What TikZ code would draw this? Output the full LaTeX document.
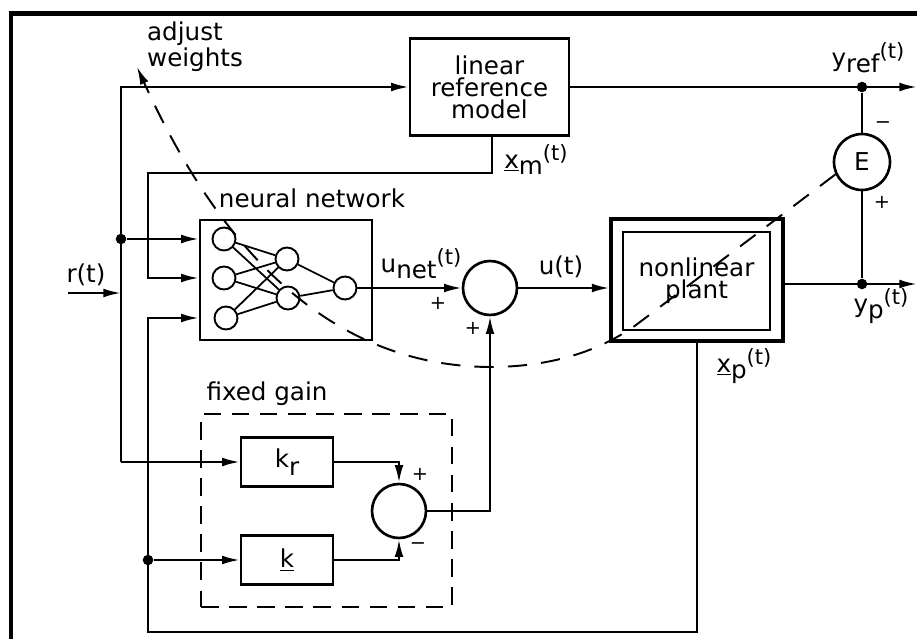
\documentclass[tikz,border=0pt]{standalone}
\usepackage{fontspec}
\setmainfont{DejaVu Sans}
\usepackage{tikz}
\usetikzlibrary{arrows.meta}
\tikzstyle{arrow} = [->,>={Latex[length=10pt,width=5pt]}]
\tikzstyle{block} = [draw, line width=1.4pt, inner sep=0pt, align=center]
\tikzstyle{sumnode} = [draw, circle, line width=1.5pt, minimum size=1.08cm, inner sep=0pt]
\tikzstyle{neuron} = [draw, circle, line width=1.1pt, minimum size=0.46cm, inner sep=0pt]
\tikzstyle{junct} = [circle, fill, inner sep=0pt, minimum size=6pt]
\tikzstyle{sign} = [inner sep=0pt, font=\fontsize{11}{11}\selectfont]
\newcommand{\sigt}[2]{#1\raisebox{-0.5ex}{#2}\raisebox{0.55ex}{\fontsize{12}{12}\selectfont(t)}}

\begin{document}
\begin{tikzpicture}[x=0.02cm, y=-0.02cm, line width=1.3pt, every node/.style={font=\fontsize{14}{12.5}\selectfont}]
  \useasboundingbox (0,0) rectangle (917,639);

  % Frame
  \draw[line width=2.4pt] (11,639) -- (11,13.5) -- (917,13.5);

  % Blocks
  \node[block, minimum width=3.18cm, minimum height=1.94cm] (ref) at (489.5,87) {linear\\reference\\model};
  \node[block, minimum width=3.44cm, minimum height=2.4cm] (nn) at (286,280) {};
  \node[block, line width=1.8pt, minimum width=3.44cm, minimum height=2.44cm] (plant) at (697,280) {};
  \node[block, line width=1.6pt, minimum width=2.94cm, minimum height=1.96cm] (plantin) at (696.5,281) {nonlinear\\plant};
  \node[block, minimum width=1.84cm, minimum height=0.98cm] (kr) at (287,462) {k\raisebox{-0.55ex}{r}};
  \node[block, minimum width=1.84cm, minimum height=0.98cm] (k) at (287,560) {\underline{k}};
  \node[draw, line width=1.2pt, dash pattern=on 10pt off 6pt, minimum width=5.02cm, minimum height=3.86cm] (fixed) at (326.5,510.5) {};

  % Summing points
  \node[sumnode] (s1) at (490,288) {};
  \node[sumnode] (s2) at (399,511) {};
  \node[sumnode, minimum size=1.12cm] (err) at (862,162) {E};

  % Neurons
  \node[neuron] (n1) at (224,239) {};
  \node[neuron] (n2) at (224,278) {};
  \node[neuron] (n3) at (226,318) {};
  \node[neuron] (h1) at (287,259) {};
  \node[neuron] (h2) at (288,298) {};
  \node[neuron] (o) at (345,288) {};
  \draw[line width=1pt] (n1) -- (h1);
  \draw[line width=1pt] (n1) -- (h2);
  \draw[line width=1pt] (n2) -- (h1);
  \draw[line width=1pt] (n2) -- (h2);
  \draw[line width=1pt] (n3) -- (h1);
  \draw[line width=1pt] (n3) -- (h2);
  \draw[line width=1pt] (h1) -- (o);
  \draw[line width=1pt] (h2) -- (o);

  % Branch points
  \coordinate (rin) at (68,293);
  \coordinate (rj) at (121,293);
  \coordinate (rtop) at (121,87);
  \coordinate (rbot) at (121,462);
  \coordinate (xm) at (492,173);
  \coordinate (xmcorner) at (148,173);
  \coordinate (xpbot) at (697,632);
  \coordinate (fbcorner) at (148,632);
  \coordinate (yrefout) at (917,87);
  \coordinate (ypout) at (917,284);
  \coordinate (adj) at (137,67);
  \node[junct] (j1) at (121,239) {};
  \node[junct] (j2) at (148,560) {};
  \node[junct] (jref) at (862,87) {};
  \node[junct] (jp) at (862,284) {};

  % Reference input r(t)
  \draw[arrow] (rin) -- (rj);
  \draw[arrow] (rbot) -- (rtop) -- (ref.west);
  \draw[arrow] (rbot) -- (kr.west);
  \draw[arrow] (j1) -- (n1 -| nn.west);

  % States
  \draw[arrow] (ref.south -| xm) -- (xm) -- (xmcorner) -- (xmcorner |- n2) -- (n2 -| nn.west);
  \draw[arrow] (plant.south) -- (xpbot) -- (fbcorner) -- (fbcorner |- n3) -- (n3 -| nn.west);
  \draw[arrow] (j2) -- (k.west);

  % Control signal
  \draw[arrow] (o.east) -- (s1.west);
  \draw[arrow] (s1.east) -- (plant.west |- s1);
  \draw[arrow] (kr.east) -- (kr.east -| s2) -- (s2.north);
  \draw[arrow] (k.east) -- (k.east -| s2) -- (s2.south);
  \draw[arrow] (s2.east) -- (s2.east -| s1) -- (s1.south);

  % Outputs and error
  \draw[arrow] (ref.east) -- (yrefout);
  \draw[arrow] (plant.east |- jp) -- (ypout);
  \draw (jref) -- (err.north);
  \draw (err.south) -- (jp);

  % Adaptation
  \draw[arrow, line width=1.1pt, dash pattern=on 11pt off 8pt] (err.205) -- (640,322)
    .. controls (590,360) and (530,367) .. (490,367)
    .. controls (330,366) and (220,250) .. (adj);

  % Labels
  \node (rlab) at (86,275) {r(t)};
  \node[anchor=north west, inner sep=0pt, align=left] (adjlab) at (146,21) {adjust\\weights};
  \node[anchor=base] (nnlab) at (312,207) {neural network};
  \node[anchor=base] (unetlab) at (421,272) {\sigt{u}{net}};
  \node[anchor=base] (ulab) at (561,274) {u(t)};
  \node[anchor=base] (xmlab) at (536,168) {\sigt{\underline{x}}{m}};
  \node[anchor=base] (yreflab) at (868,66) {\sigt{y}{ref}};
  \node[anchor=base] (yplab) at (881,312) {\sigt{y}{p}};
  \node[anchor=base] (xplab) at (744,372) {\sigt{\underline{x}}{p}};
  \node[anchor=base] (fixlab) at (267,400) {fixed gain};
  \node[sign] (sg1) at (438,303) {+};
  \node[sign] (sg2) at (473,328) {+};
  \node[sign] (sg3) at (883,125) {−};
  \node[sign] (sg4) at (882,202) {+};
  \node[sign] (sg5) at (420,474) {+};
  \node[sign] (sg6) at (418,546) {−};
\end{tikzpicture}
\end{document}
